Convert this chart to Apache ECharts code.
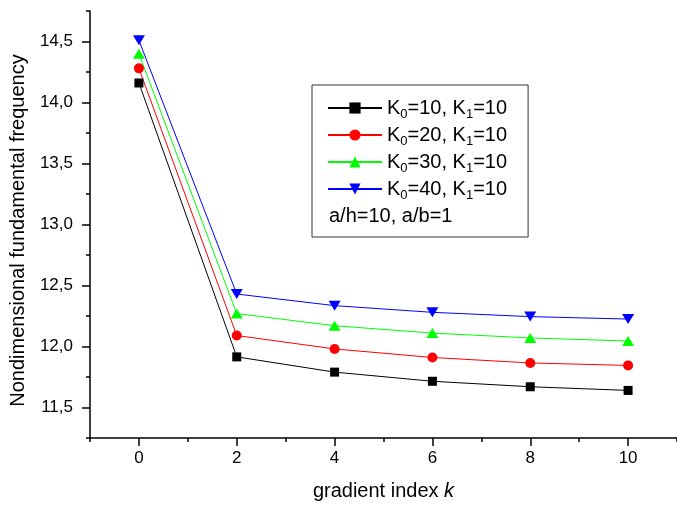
<!DOCTYPE html>
<html>
<head>
<meta charset="utf-8">
<script src="https://cdn.jsdelivr.net/npm/echarts@6/dist/echarts.min.js"></script>
<style>
  html, body { margin: 0; padding: 0; background: #fff; }
  #chart { width: 677px; height: 506px; }
</style>
</head>
<body>
<div id="chart"></div>
<script>
// gradient index k on x axis
const kIndex = [0, 2, 4, 6, 8, 10];
const k0List = [10, 20, 30, 40];
const k1Value = 10;
// nondimensional fundamental frequency, one array per K0
const freqK0_10 = [14.16, 11.915, 11.79, 11.715, 11.67, 11.64];
const freqK0_20 = [14.28, 12.09, 11.98, 11.91, 11.865, 11.845];
const freqK0_30 = [14.40, 12.27, 12.17, 12.11, 12.07, 12.045];
const freqK0_40 = [14.51, 12.43, 12.335, 12.28, 12.245, 12.225];
// ticks
const xTickValues = [0, 2, 4, 6, 8, 10];
const xMinorTicks = [-1, 1, 3, 5, 7, 9, 11];
const yTickValues = [11.5, 12.0, 12.5, 13.0, 13.5, 14.0, 14.5];
const yMinorTicks = [11.25, 11.75, 12.25, 12.75, 13.25, 13.75, 14.25, 14.75];
const noteText = 'a/h=10, a/b=1';

const FONT = '"Liberation Sans", Arial, sans-serif';
const colors = ['#000000', '#ff0000', '#00ff00', '#0000ff'];
const symbols = ['rect', 'circle', 'triangle', 'path://M0,0 L10,0 L5,9 Z'];
const symbolSizes = [9, 10, [12, 10], [12, 10]];
const allFreq = [freqK0_10, freqK0_20, freqK0_30, freqK0_40];

const chart = echarts.init(document.getElementById('chart'));

const series = k0List.map(function (k0, i) {
  return {
    name: 'K0=' + k0 + ', K1=' + k1Value,
    type: 'line',
    xAxisIndex: 0,
    yAxisIndex: 0,
    data: kIndex.map(function (k, j) { return [k, allFreq[i][j]]; }),
    symbol: symbols[i],
    symbolSize: symbolSizes[i],
    showAllSymbol: true,
    lineStyle: { color: colors[i], width: 1 },
    itemStyle: { color: colors[i] },
    emphasis: { disabled: true }
  };
});

const option = {
  backgroundColor: '#ffffff',
  animation: false,
  grid: { left: 90, right: -7, top: 11, bottom: 67 },
  legend: {
    orient: 'vertical',
    left: 312,
    top: 85,
    padding: [10, 21, 35, 15],
    borderColor: '#333',
    borderWidth: 1,
    itemWidth: 54,
    itemHeight: 14,
    itemGap: 1,
    itemTextGap: 6,
    selectedMode: false,
    data: series.map(function (s) { return s.name; }),
    formatter: function (name) {
      // K0=10, K1=10 -> K with subscripts
      const m = name.match(/K0=(\d+), K1=(\d+)/);
      return '{n|K}{s|0}{n|=' + m[1] + ', K}{s|1}{n|=' + m[2] + '}';
    },
    textStyle: {
      fontFamily: FONT,
      fontSize: 20,
      lineHeight: 26,
      rich: {
        n: { fontFamily: FONT, fontSize: 20, color: '#000', lineHeight: 26 },
        s: { fontFamily: FONT, fontSize: 13, color: '#000', lineHeight: 13, verticalAlign: 'bottom' }
      }
    }
  },
  graphic: [{
    type: 'text',
    left: 329,
    top: 206,
    style: { text: noteText, font: '20px ' + FONT, fill: '#000' }
  }],
  xAxis: [{
    type: 'value',
    min: -1,
    max: 11,
    name: '{n|gradient index }{i|k}',
    nameLocation: 'middle',
    nameGap: 43,
    nameTextStyle: {
      rich: {
        n: { fontFamily: FONT, fontSize: 20, color: '#000' },
        i: { fontFamily: FONT, fontSize: 20, color: '#000', fontStyle: 'italic' }
      }
    },
    axisLine: { show: true, onZero: false, lineStyle: { color: '#000', width: 1.5 } },
    axisTick: { show: true, inside: false, length: 8, customValues: xTickValues, lineStyle: { color: '#000', width: 1.5 } },
    axisLabel: { customValues: xTickValues, margin: 12, fontFamily: FONT, fontSize: 17, color: '#000' },
    splitLine: { show: false }
  }, {
    type: 'value',
    min: -1,
    max: 11,
    position: 'bottom',
    axisLine: { show: false, onZero: false },
    axisTick: { show: true, inside: false, length: 4, customValues: xMinorTicks, lineStyle: { color: '#000', width: 1.5 } },
    axisLabel: { show: false },
    splitLine: { show: false }
  }],
  yAxis: [{
    type: 'value',
    min: 11.25,
    max: 14.75,
    name: 'Nondimensional fundamental frequency',
    nameLocation: 'middle',
    nameGap: 62,
    nameTextStyle: { fontFamily: FONT, fontSize: 20, color: '#000', padding: [0, 12, 0, 0] },
    axisLine: { show: true, onZero: false, lineStyle: { color: '#000', width: 1.5 } },
    axisTick: { show: true, inside: false, length: 8, customValues: yTickValues, lineStyle: { color: '#000', width: 1.5 } },
    axisLabel: {
      customValues: yTickValues,
      margin: 17,
      fontFamily: FONT,
      fontSize: 17,
      color: '#000',
      formatter: function (v) { return v.toFixed(1).replace('.', ','); }
    },
    splitLine: { show: false }
  }, {
    type: 'value',
    min: 11.25,
    max: 14.75,
    position: 'left',
    axisLine: { show: false, onZero: false },
    axisTick: { show: true, inside: false, length: 4, customValues: yMinorTicks, lineStyle: { color: '#000', width: 1.5 } },
    axisLabel: { show: false },
    splitLine: { show: false }
  }],
  series: series
};

chart.setOption(option);
</script>
</body>
</html>
